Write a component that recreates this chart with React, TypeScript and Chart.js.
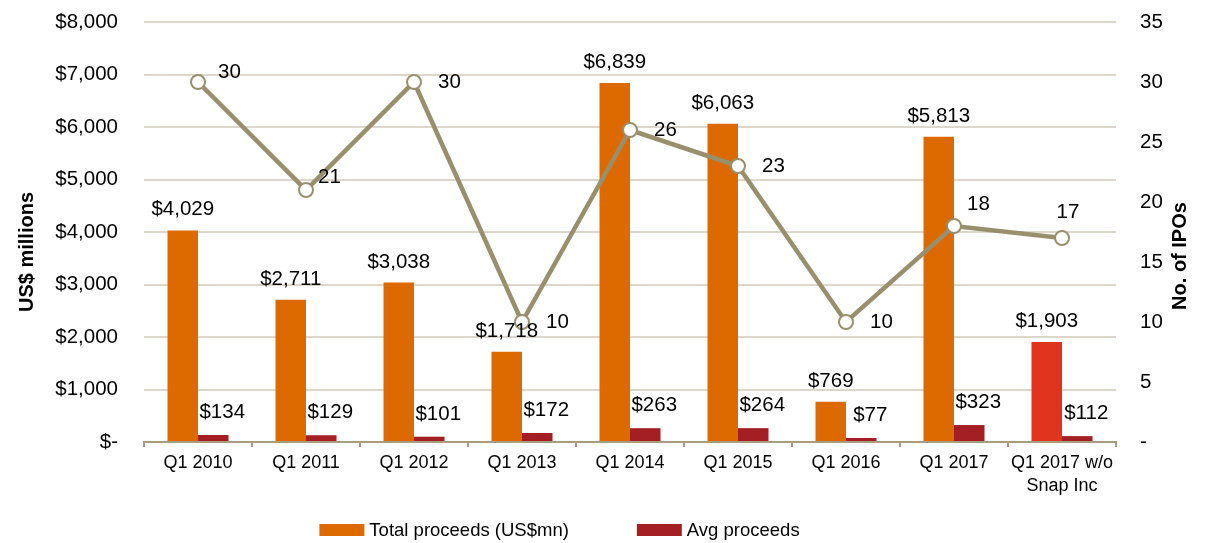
import React, { useEffect, useRef } from "react";
import { Chart, registerables } from "chart.js";

Chart.register(...registerables);

const FONT = "'Liberation Sans', Arial, Helvetica, sans-serif";

const categories = [
  "Q1 2010",
  "Q1 2011",
  "Q1 2012",
  "Q1 2013",
  "Q1 2014",
  "Q1 2015",
  "Q1 2016",
  "Q1 2017",
  "Q1 2017 w/o\nSnap Inc",
];
const totalProceeds = [4029, 2711, 3038, 1718, 6839, 6063, 769, 5813, 1903];
const avgProceeds = [134, 129, 101, 172, 263, 264, 77, 323, 112];
const ipoCount = [30, 21, 30, 10, 26, 23, 10, 18, 17];

const seriesNames = ["Total proceeds (US$mn)", "Avg proceeds", "No. of IPOs"];
const axisTitles = ["US$ millions", "No. of IPOs"];

const ORANGE = "#DD6A00";
const RED = "#E0341F";
const DARK_RED = "#A31F24";
const LINE = "#9A8F6D";
const GRID = "#DCD7CA";
const AXIS = "#A89E7F";

const money = (v: number) => (v === 0 ? "$-" : "$" + v.toLocaleString("en-US"));

// placement of line labels, one per point (style only)
const linePlacement = ["upRight", "upRight", "right", "right", "right", "right", "right", "upRightHigh", "above"];

const labelPlugin = {
  id: "valueLabels",
  afterDatasetsDraw(chart: any) {
    const ctx = chart.ctx;
    ctx.save();
    ctx.fillStyle = "#000";
    ctx.font = `20.5px ${FONT}`;
    ctx.textBaseline = "alphabetic";
    const m0 = chart.getDatasetMeta(0);
    m0.data.forEach((bar: any, i: number) => {
      ctx.textAlign = "center";
      ctx.fillText(money(totalProceeds[i]), bar.x, bar.y - 15);
    });
    const m1 = chart.getDatasetMeta(1);
    m1.data.forEach((bar: any, i: number) => {
      ctx.textAlign = "center";
      ctx.fillText(money(avgProceeds[i]), bar.x + 9, bar.y - 17);
    });
    const m2 = chart.getDatasetMeta(2);
    ctx.textBaseline = "middle";
    m2.data.forEach((pt: any, i: number) => {
      const p = linePlacement[i];
      const t = String(ipoCount[i]);
      ctx.textAlign = "left";
      if (p === "above") {
        ctx.textAlign = "center";
        ctx.fillText(t, pt.x + 6, pt.y - 26);
      } else if (p === "upRight") {
        ctx.fillText(t, pt.x + (i === 0 ? 20 : 12), pt.y - (i === 0 ? 10 : 13));
      } else if (p === "upRightHigh") {
        ctx.fillText(t, pt.x + 13, pt.y - 22);
      } else {
        ctx.fillText(t, pt.x + 24, pt.y);
      }
    });
    ctx.restore();
  },
  afterDraw(chart: any) {
    const ctx = chart.ctx;
    const area = chart.chartArea;
    ctx.save();
    ctx.fillStyle = "#000";
    ctx.font = `bold 20px ${FONT}`;
    ctx.textAlign = "center";
    ctx.textBaseline = "middle";
    const cy = (area.top + area.bottom) / 2 + 20;
    ctx.save();
    ctx.translate(27, cy);
    ctx.rotate(-Math.PI / 2);
    ctx.fillText(axisTitles[0], 0, 0);
    ctx.restore();
    ctx.save();
    ctx.translate(chart.width - 25, cy + 4);
    ctx.rotate(-Math.PI / 2);
    ctx.fillText(axisTitles[1], 0, 0);
    ctx.restore();

    // legend
    ctx.font = `18.5px ${FONT}`;
    ctx.textAlign = "left";
    const items = [
      { text: seriesNames[0], color: ORANGE },
      { text: seriesNames[1], color: DARK_RED },
    ];
    const boxW = 45;
    const boxH = 12;
    const gapText = 5;
    const gapItems = 68;
    const widths = items.map((it) => boxW + gapText + ctx.measureText(it.text).width);
    const total = widths.reduce((a, b) => a + b, 0) + gapItems;
    let x = chart.width / 2 - total / 2 - 43;
    const y = chart.height - 13;
    items.forEach((it, i) => {
      ctx.fillStyle = it.color;
      ctx.fillRect(x, y - boxH / 2, boxW, boxH);
      ctx.fillStyle = "#000";
      ctx.fillText(it.text, x + boxW + gapText, y + 1);
      x += widths[i] + gapItems;
    });
    ctx.restore();
  },
};

export default function App() {
  const ref = useRef<HTMLCanvasElement | null>(null);
  useEffect(() => {
    if (!ref.current) return;
    const chart = new Chart(ref.current, {
      type: "bar",
      data: {
        labels: categories.map((c) => c.split("\n")),
        datasets: [
          {
            type: "bar",
            label: seriesNames[0],
            data: totalProceeds,
            backgroundColor: totalProceeds.map((_, i) => (i === totalProceeds.length - 1 ? RED : ORANGE)),
            yAxisID: "y",
            order: 1,
            categoryPercentage: 0.565,
            barPercentage: 1,
          },
          {
            type: "bar",
            label: seriesNames[1],
            data: avgProceeds,
            backgroundColor: DARK_RED,
            yAxisID: "y",
            order: 2,
            categoryPercentage: 0.565,
            barPercentage: 1,
          },
          {
            type: "line",
            label: seriesNames[2],
            data: ipoCount,
            borderColor: LINE,
            borderWidth: 4.5,
            pointRadius: 7,
            pointBorderWidth: 2,
            pointBackgroundColor: "#fff",
            pointBorderColor: LINE,
            yAxisID: "y1",
            order: 0,
            tension: 0,
          } as any,
        ],
      },
      options: {
        responsive: true,
        maintainAspectRatio: false,
        animation: false,
        devicePixelRatio: 1,
        layout: { padding: { top: 22, bottom: 0, left: 0, right: 0 } },
        plugins: {
          legend: { display: false },
          tooltip: { enabled: false },
          title: { display: false },
        },
        scales: {
          x: {
            offset: true,
            afterFit: (s: any) => {
              s.height = 101;
            },
            grid: {
              display: true,
              drawOnChartArea: false,
              drawTicks: true,
              tickLength: 5,
              color: AXIS,
              lineWidth: 2,
              offset: true,
            },
            border: { display: true, color: AXIS, width: 2 },
            ticks: {
              color: "#000",
              font: { family: FONT, size: 18, lineHeight: 1.25 },
              padding: 5,
              maxRotation: 0,
              autoSkip: false,
            },
          },
          y: {
            position: "left",
            min: 0,
            max: 8000,
            afterFit: (s: any) => {
              s.width = 144;
            },
            grid: { color: GRID, lineWidth: 2, drawTicks: true, tickLength: 24, tickColor: "rgba(0,0,0,0)" },
            border: { display: false },
            ticks: {
              stepSize: 1000,
              color: "#000",
              padding: 2,
              font: { family: FONT, size: 20.5 },
              callback: (v: any) => money(Number(v)),
            },
          },
          y1: {
            position: "right",
            min: 0,
            max: 35,
            afterFit: (s: any) => {
              s.width = 89;
            },
            grid: { display: true, drawOnChartArea: false, drawTicks: true, tickLength: 22, tickColor: "rgba(0,0,0,0)", color: "rgba(0,0,0,0)" },
            border: { display: false },
            ticks: {
              stepSize: 5,
              color: "#000",
              padding: 2,
              font: { family: FONT, size: 20.5 },
              callback: (v: any) => (Number(v) === 0 ? "-" : String(v)),
            },
          },
        },
      } as any,
      plugins: [labelPlugin],
    });
    return () => chart.destroy();
  }, []);
  return (
    <div style={{ position: "absolute", left: 0, top: 0, width: 1205, height: 543 }}>
      <canvas ref={ref} />
    </div>
  );
}
